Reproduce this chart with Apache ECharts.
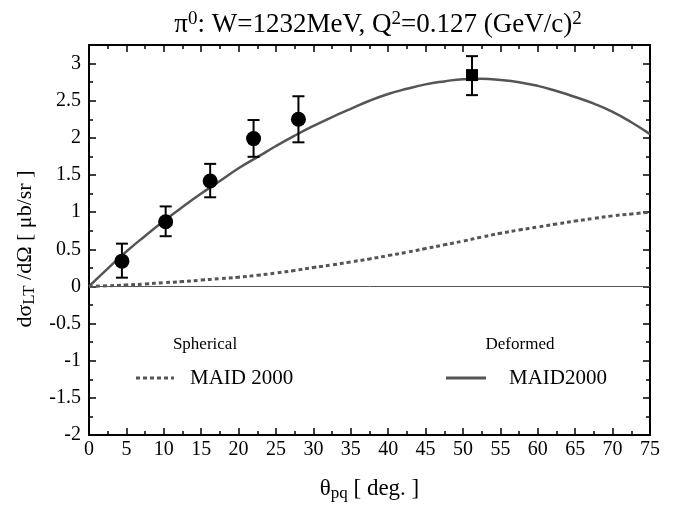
<!DOCTYPE html>
<html><head><meta charset="utf-8">
<script src="https://cdn.jsdelivr.net/npm/echarts@6/dist/echarts.min.js"></script>
<style>html,body{margin:0;padding:0;background:#fff}#c{width:680px;height:507px}</style>
</head><body><div id="c"></div>
<script>
// ---- data ----
const curveTheta = [0,2.5,5,7.5,10,12.5,15,17.5,20,22.5,25,27.5,30,32.5,35,37.5,40,42.5,45,47.5,50,52.5,55,57.5,60,62.5,65,67.5,70,72.5,75];
const deformed = [0,0.24,0.47,0.68,0.88,1.07,1.25,1.42,1.59,1.74,1.89,2.03,2.16,2.28,2.39,2.5,2.59,2.66,2.72,2.76,2.79,2.795,2.78,2.75,2.70,2.63,2.55,2.46,2.35,2.21,2.05];
const spherical = [0,0.008,0.02,0.033,0.05,0.066,0.085,0.104,0.125,0.15,0.18,0.215,0.255,0.29,0.33,0.37,0.415,0.46,0.51,0.56,0.61,0.665,0.715,0.76,0.8,0.84,0.88,0.915,0.95,0.975,1.0];
const expTheta = [4.4,10.25,16.2,22.0,28.0];
const expVal = [0.34,0.87,1.42,1.99,2.25];
const expHi = [0.576,1.077,1.65,2.24,2.56];
const expLo = [0.118,0.676,1.20,1.745,1.94];
const sqTheta = [51.2];
const sqVal = [2.845];
const sqHi = [3.10];
const sqLo = [2.575];
const xTicks = {min:0, max:75, step:5};
const yTicks = {min:-2, max:3.25, step:0.5};

const FONT = '"Liberation Serif","Times New Roman",serif';
const pair = (xs, ys) => xs.map((x,i)=>[x, ys[i]]);
const errData = expTheta.map((x,i)=>[x, expLo[i], expHi[i]]).concat(sqTheta.map((x,i)=>[x, sqLo[i], sqHi[i]]));

const axisCommon = {
  axisLine:{show:true, onZero:false, lineStyle:{color:'#000', width:2}},
  axisTick:{show:true, inside:true, length:7, lineStyle:{color:'#000', width:1.5}},
  minorTick:{show:true, splitNumber:2, length:4, lineStyle:{color:'#000', width:1.5}},
  splitLine:{show:false}, minorSplitLine:{show:false}
};
const xAx = (pos, showLabel) => Object.assign({
  type:'value', position:pos, min:xTicks.min, max:xTicks.max, interval:xTicks.step,
  axisLabel:{show:showLabel, color:'#000', fontFamily:FONT, fontSize:20, margin:5}
}, axisCommon);
const yAx = (pos, showLabel) => Object.assign({
  type:'value', position:pos, min:yTicks.min, max:yTicks.max, interval:yTicks.step,
  axisLabel:{show:showLabel, color:'#000', fontFamily:FONT, fontSize:20, margin:8, showMaxLabel:false,
    formatter: v => (Math.abs(v*2 - Math.round(v*2))<1e-9) ? String(v) : ''}
}, axisCommon);

const xAxis0 = xAx('bottom', true);
xAxis0.name = '{t|θ}{s|pq}{t| [ deg. ]}';
xAxis0.nameLocation = 'middle';
xAxis0.nameGap = 40;
xAxis0.nameTextStyle = {color:'#000', fontFamily:FONT, fontSize:23,
  rich:{t:{fontFamily:FONT,fontSize:23,color:'#000'}, s:{fontFamily:FONT,fontSize:17,color:'#000',verticalAlign:'bottom',padding:[10,0,0,0]}}};
const yAxis0 = yAx('left', true);
yAxis0.name = '{t|dσ}{s|LT}{t| /dΩ [ μb/sr ]}';
yAxis0.nameLocation = 'middle';
yAxis0.nameGap = 50;
yAxis0.nameTextStyle = {color:'#000', fontFamily:FONT, fontSize:22, padding:[0,18,0,0],
  rich:{t:{fontFamily:FONT,fontSize:22,color:'#000'}, s:{fontFamily:FONT,fontSize:17,color:'#000',verticalAlign:'bottom',padding:[10,0,0,0]}}};

const option = {
  animation:false,
  backgroundColor:'#fff',
  title:{
    text:'{t|π}{p|0}{t|: W=1232MeV, Q}{p|2}{t|=0.127 (GeV/c)}{p|2}',
    left:373, top:5, textAlign:'center',
    textStyle:{fontFamily:FONT, fontSize:27, fontWeight:'normal', color:'#000',
      rich:{t:{fontFamily:FONT,fontSize:27,color:'#000'}, p:{fontFamily:FONT,fontSize:19,color:'#000',verticalAlign:'top',padding:[0,0,10,0]}}}
  },
  grid:{left:89, right:30, top:45, bottom:60},
  xAxis:[xAxis0, xAx('top', false)],
  yAxis:[yAxis0, yAx('right', false)],
  series:[
    {type:'line', data:[], xAxisIndex:0, yAxisIndex:0, silent:true,
     markLine:{symbol:'none', silent:true, label:{show:false}, lineStyle:{color:'#555', width:1, type:'solid'}, data:[{yAxis:0}]}},
    {type:'line', name:'Spherical MAID 2000', data:pair(curveTheta, spherical), smooth:true, showSymbol:false,
     lineStyle:{color:'#555', width:3, type:[4,3]}},
    {type:'line', name:'Deformed MAID2000', data:pair(curveTheta, deformed), smooth:true, showSymbol:false,
     lineStyle:{color:'#555', width:2.5, type:'solid'}},
    {type:'custom', data:errData, z:5,
     renderItem:(params, api)=>{
       const lo = api.coord([api.value(0), api.value(1)]);
       const hi = api.coord([api.value(0), api.value(2)]);
       const w = 6;
       const st = {stroke:'#000', lineWidth:2};
       return {type:'group', children:[
         {type:'line', shape:{x1:lo[0],y1:lo[1],x2:hi[0],y2:hi[1]}, style:st},
         {type:'line', shape:{x1:lo[0]-w,y1:lo[1],x2:lo[0]+w,y2:lo[1]}, style:st},
         {type:'line', shape:{x1:hi[0]-w,y1:hi[1],x2:hi[0]+w,y2:hi[1]}, style:st}
       ]};
     }},
    {type:'scatter', data:pair(expTheta, expVal), symbol:'circle', symbolSize:15, itemStyle:{color:'#000', opacity:1}, z:6},
    {type:'scatter', data:pair(sqTheta, sqVal), symbol:'rect', symbolSize:12, itemStyle:{color:'#000', opacity:1}, z:6}
  ],
  graphic:[
    {type:'text', x:205, y:345, style:{text:'Spherical', font:'17px '+FONT, fill:'#000', align:'center', verticalAlign:'middle'}},
    {type:'line', shape:{x1:136,y1:378,x2:174,y2:378}, style:{stroke:'#555', lineWidth:3, lineDash:[4,3]}},
    {type:'text', x:190, y:378, style:{text:'MAID 2000', font:'21px '+FONT, fill:'#000', align:'left', verticalAlign:'middle'}},
    {type:'text', x:520, y:345, style:{text:'Deformed', font:'17px '+FONT, fill:'#000', align:'center', verticalAlign:'middle'}},
    {type:'line', shape:{x1:446,y1:378,x2:486,y2:378}, style:{stroke:'#555', lineWidth:3}},
    {type:'text', x:509, y:378, style:{text:'MAID2000', font:'21px '+FONT, fill:'#000', align:'left', verticalAlign:'middle'}}
  ]
};
echarts.init(document.getElementById('c'), null, {renderer:'canvas'}).setOption(option);
</script></body></html>
